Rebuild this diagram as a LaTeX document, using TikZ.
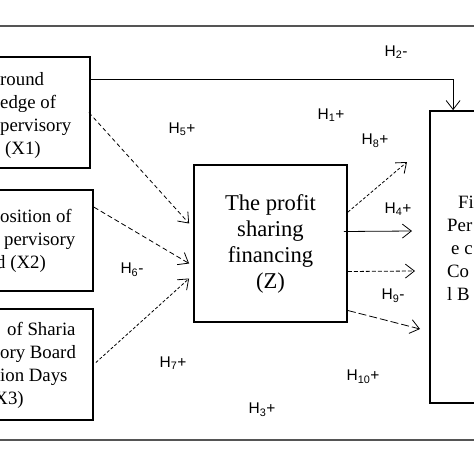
\documentclass[tikz,border=0pt]{standalone}
\usepackage{fontspec}
\setmainfont{Liberation Serif}
\newfontfamily\labfont{Liberation Sans}
\usetikzlibrary{arrows.meta,positioning,calc}
\definecolor{framegray}{RGB}{85,85,85}
\newcommand{\boxfont}{\fontsize{18.8}{23}\selectfont}
\newcommand{\zfont}{\fontsize{22.6}{26}\selectfont}
\newcommand{\hypfont}{\labfont\fontsize{15.5}{18}\selectfont}
\tikzset{
  varbox/.style={draw, line width=1.8pt, inner sep=0pt},
  vartext/.style={font=\boxfont, align=left, anchor=west, inner sep=0pt},
  hyp/.style={font=\hypfont, inner sep=0pt},
  link/.style={line width=0.8pt, -{Straight Barb[length=9pt,width=14pt,line width=0.8pt]}},
}

\begin{document}
\begin{tikzpicture}[x=1pt,y=-1pt]
  \useasboundingbox (0,0) rectangle (474,474);
  \clip (0,0) rectangle (474,474);
  % ---- frame lines
  \draw[framegray, line width=1.2pt] (0,26) -- (474,26);
  \draw[framegray, line width=1.2pt] (0,440) -- (474,440);
  % ---- variable boxes
  \node[varbox, minimum width=132pt, minimum height=111pt] (x1) at (24,112.5) {};
  \node[varbox, minimum width=135pt, minimum height=101pt] (x2) at (25.5,240.5) {};
  \node[varbox, minimum width=135pt, minimum height=111pt] (x3) at (25.5,364.5) {};
  \node[varbox, minimum width=153pt, minimum height=157pt, font=\zfont, align=center] (z) at (270.5,243.5)
       {The profit\\sharing\\financing\\(Z)};
  \node[varbox, minimum width=100pt, minimum height=292pt] (y) at (480,257) {};
  \node[vartext] (x1txt) at (0,115) {round\\edge of\\pervisory\\\hspace*{5pt}(X1)};
  \node[vartext] (x2txt) at (0,240.5) {osition of\\\hspace*{4pt}pervisory\\\hspace*{-4pt}d (X2)};
  \node[vartext] (x3txt) at (0,365) {\hspace*{7pt}of Sharia\\ory Board\\ion Days\\\hspace*{-12pt}(X3)};
  \node[vartext] (ytxt) at (447,248) {\hspace*{11pt}Fi\\Per\\\hspace*{4pt}e c\\Co\\l B};
  % ---- hypotheses
  \node[hyp] (h1) at (331,115) {H\textsubscript{1}+};
  \node[hyp] (h2) at (396,52) {H\textsubscript{2}-};
  \node[hyp] (h3) at (262,410) {H\textsubscript{3}+};
  \node[hyp] (h4) at (398,209) {H\textsubscript{4}+};
  \node[hyp] (h5) at (182,129) {H\textsubscript{5}+};
  \node[hyp] (h6) at (132,270) {H\textsubscript{6}-};
  \node[hyp] (h7) at (173,363) {H\textsubscript{7}+};
  \node[hyp] (h8) at (375,141) {H\textsubscript{8}+};
  \node[hyp] (h9) at (393,296) {H\textsubscript{9}-};
  \node[hyp] (h10) at (363,377) {H\textsubscript{10}+};
  % ---- free ends in front of Y
  \coordinate (e8) at (407,162);
  \coordinate (e4) at (412,231);
  \coordinate (e9) at (415,271);
  \coordinate (e10) at (420,329);
  % ---- links
  \draw[link] ([yshift=-23pt]x1.north east) -| ([xshift=24pt]y.north west);
  \draw[link, dash pattern=on 4pt off 3pt] ([xshift=-2pt]x1.east) -- ([xshift=-4pt,yshift=20pt]z.west);
  \draw[link, dash pattern=on 5pt off 3pt] ([yshift=-18pt]x2.north east) -- ([xshift=-4pt,yshift=-20pt]z.west);
  \draw[link, dash pattern=on 3pt off 2pt] ([xshift=2pt,yshift=2pt]x3.east) -- ([xshift=-4pt,yshift=-35pt]z.west);
  \draw[link, dash pattern=on 3pt off 2pt] ([yshift=-48pt]z.north east) -- (e8);
  \draw[link] ([xshift=-4pt,yshift=12pt]z.east) -- (e4);
  \draw[link, dash pattern=on 4pt off 2pt] ([yshift=-28pt]z.east) -- (e9);
  \draw[link, dash pattern=on 8pt off 3pt] ([yshift=-67pt]z.east) -- (e10);
\end{tikzpicture}
\end{document}
